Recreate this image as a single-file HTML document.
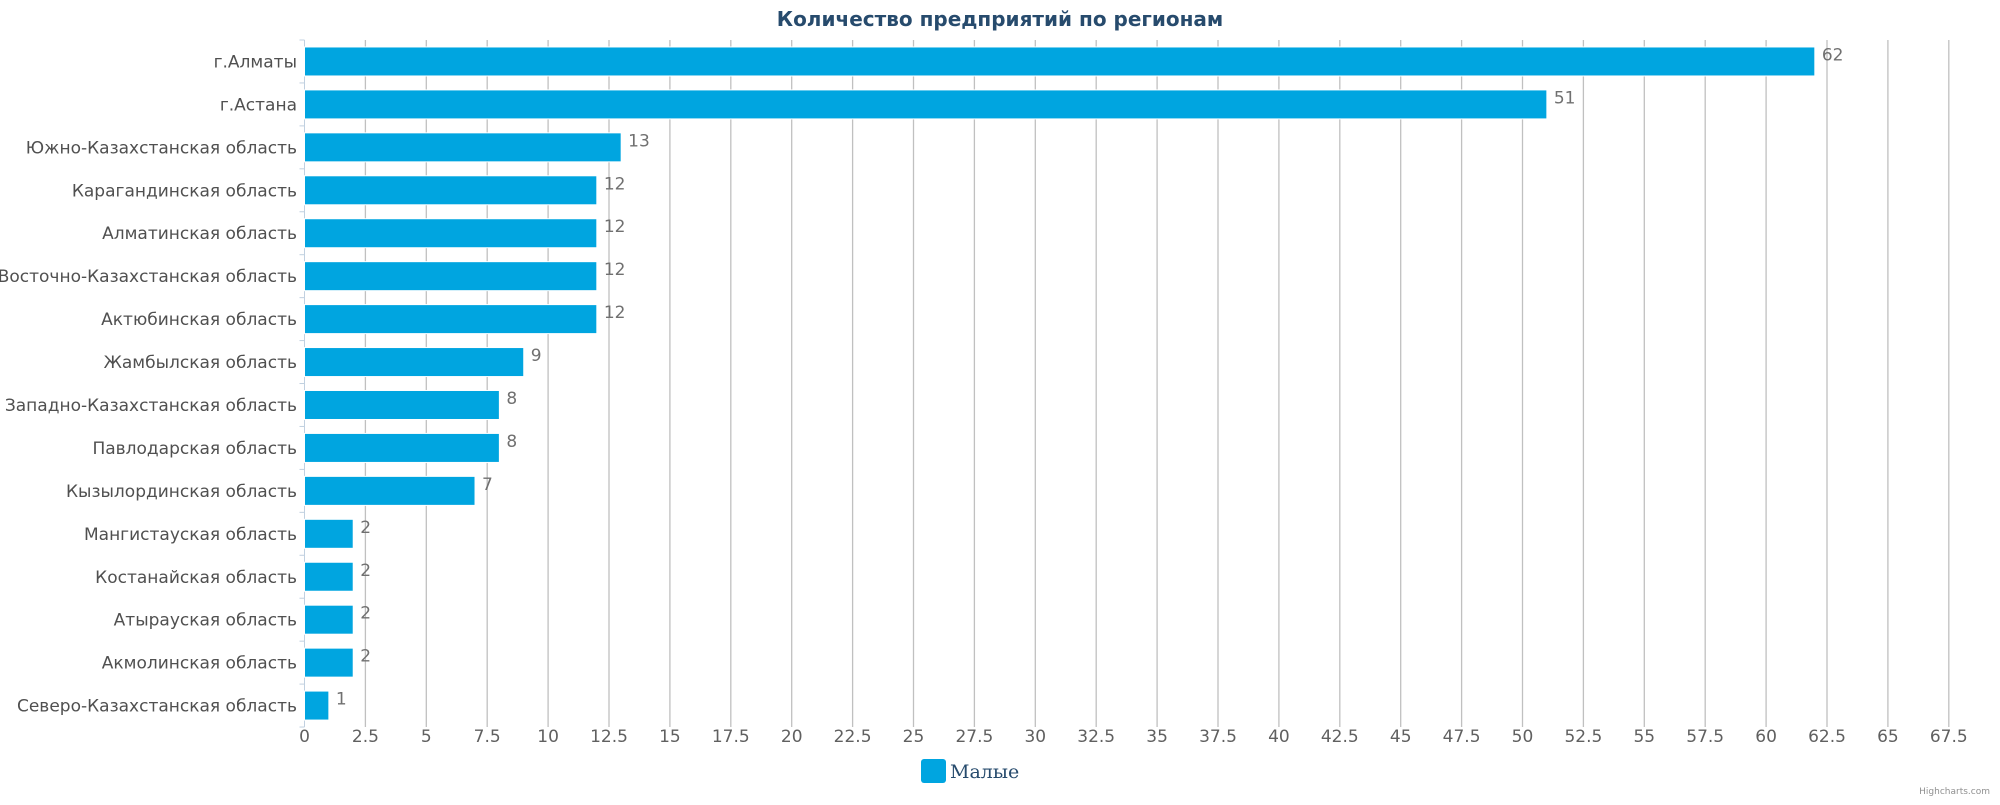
<!DOCTYPE html>
<html><head><meta charset="utf-8"><style>
body{margin:0;background:#fff;width:2000px;height:800px;overflow:hidden}
svg text{font-family:"DejaVu Sans","Liberation Sans",sans-serif}
</style></head><body>
<svg id="chart" width="2000" height="800">
<text x="1000" y="26" text-anchor="middle" font-size="20" font-weight="bold" fill="#274b6d">Количество предприятий по регионам</text>
<g id="grid"></g><g id="bars"></g><g id="labels"></g>
<g>
<rect x="921" y="759" width="25" height="24" rx="3" fill="#00a5e0"/>
<text x="950" y="778" font-size="19" fill="#274b6d" style="font-family:'DejaVu Serif','Liberation Serif',serif">Малые</text>
</g>
<text x="1990" y="794" text-anchor="end" font-size="9" fill="#909090">Highcharts.com</text>
</svg>
<script>
const categories=["г.Алматы","г.Астана","Южно-Казахстанская область","Карагандинская область","Алматинская область","Восточно-Казахстанская область","Актюбинская область","Жамбылская область","Западно-Казахстанская область","Павлодарская область","Кызылординская область","Мангистауская область","Костанайская область","Атырауская область","Акмолинская область","Северо-Казахстанская область"];
const values=[62,51,13,12,12,12,12,9,8,8,7,2,2,2,2,1];
const tickLabels=["0","2.5","5","7.5","10","12.5","15","17.5","20","22.5","25","27.5","30","32.5","35","37.5","40","42.5","45","47.5","50","52.5","55","57.5","60","62.5","65","67.5"];
const NS="http://www.w3.org/2000/svg";
const x0=304.5,pxPerUnit=24.36,plotTop=40,band=42.94;
const xs=v=>x0+v*pxPerUnit;
const ys=i=>plotTop+i*band;
function mk(t,a,p){const e=document.createElementNS(NS,t);for(const k in a)e.setAttribute(k,a[k]);p.appendChild(e);return e;}
const g=document.getElementById('grid'),b=document.getElementById('bars'),l=document.getElementById('labels');
tickLabels.forEach(t=>{const v=parseFloat(t),x=xs(v);
 if(v>0){const ln=mk('line',{x1:x,x2:x,y1:plotTop,y2:plotTop+16*band,stroke:'#c0c0c0','stroke-width':1.3},g);
 
 }
 const tx=mk('text',{x:x,y:742,'text-anchor':'middle','font-size':17,fill:'#606060'},l);tx.textContent=t;
 
 });
const ax=mk('line',{x1:x0,x2:x0,y1:plotTop,y2:plotTop+16*band,stroke:'#c0d0e0','stroke-width':1},g);


for(let i=0;i<=16;i++){const tk=mk('line',{x1:x0-5,x2:x0,y1:ys(i),y2:ys(i),stroke:'#c0d0e0'},g);
 
 }
categories.forEach((c,i)=>{const cy=ys(i)+band/2,v=values[i];
 const r=mk('rect',{x:x0,y:cy-14.5,width:xs(v)-x0,height:29,fill:'#00a5e0',stroke:'#fff','stroke-width':1},b);
 
 
 const vl=mk('text',{x:xs(v)+7,y:cy-1,'font-size':17,fill:'#707070'},l);vl.textContent=v;
 
 
 const cl=mk('text',{x:297,y:cy+6,'text-anchor':'end','font-size':17,fill:'#505050'},l);cl.textContent=c;
 
 });
</script>
</body></html>
